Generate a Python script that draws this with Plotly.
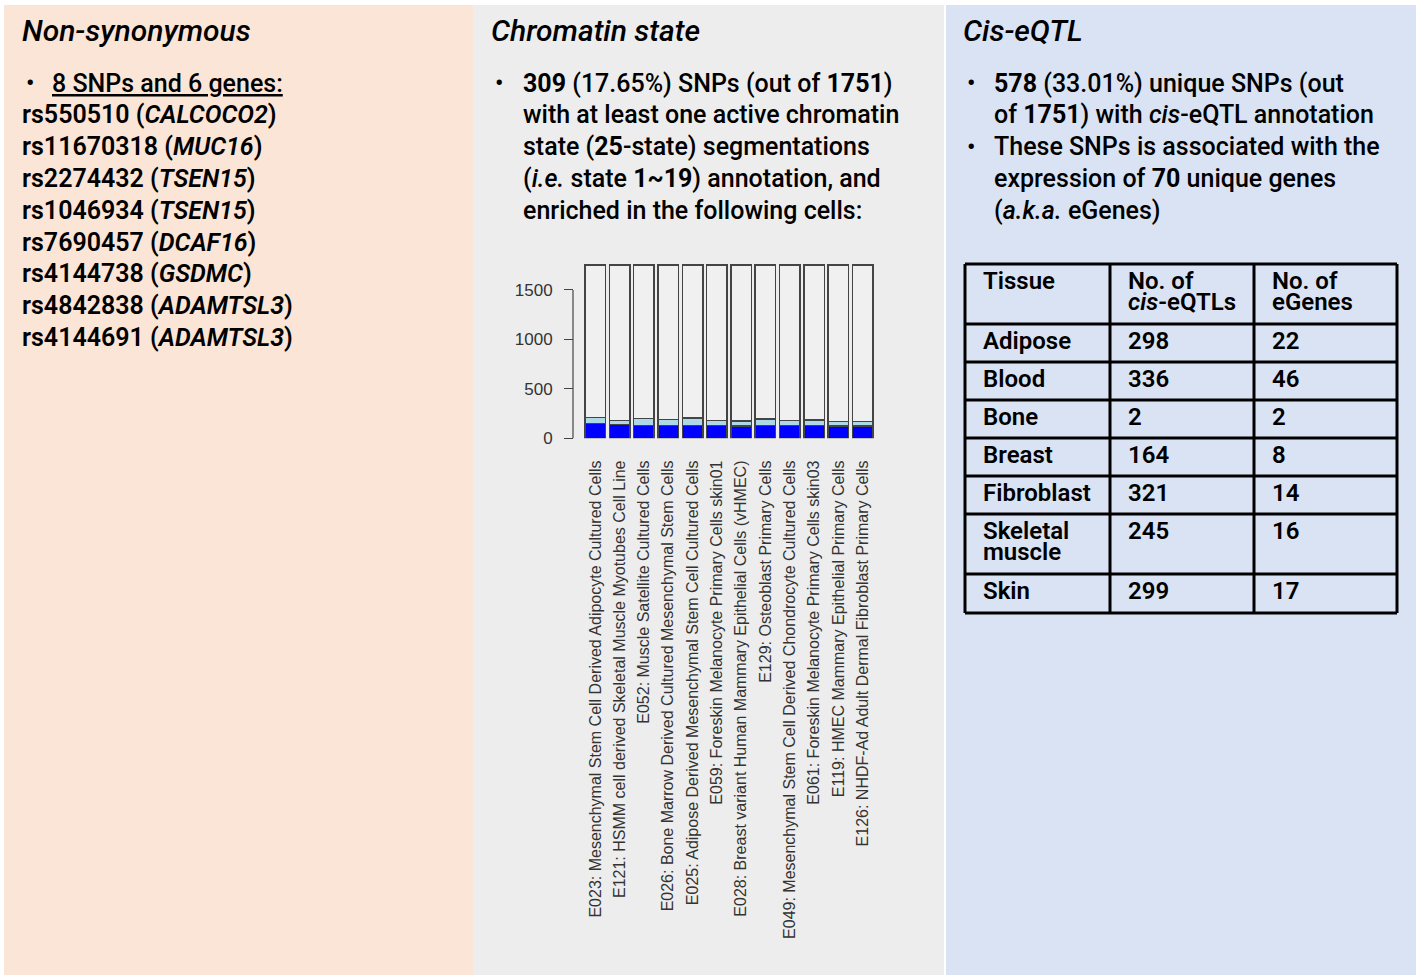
import plotly.graph_objects as go

W, H = 1418, 977

# --- data -------------------------------------------------------------
snp_ids = ["rs550510", "rs11670318", "rs2274432", "rs1046934",
           "rs7690457", "rs4144738", "rs4842838", "rs4144691"]
snp_genes = ["CALCOCO2", "MUC16", "TSEN15", "TSEN15",
             "DCAF16", "GSDMC", "ADAMTSL3", "ADAMTSL3"]

cell_lines = [
    "E023: Mesenchymal Stem Cell Derived Adipocyte Cultured Cells",
    "E121: HSMM cell derived Skeletal Muscle Myotubes Cell Line",
    "E052: Muscle Satellite Cultured Cells",
    "E026: Bone Marrow Derived Cultured Mesenchymal Stem Cells",
    "E025: Adipose Derived Mesenchymal Stem Cell Cultured Cells",
    "E059: Foreskin Melanocyte Primary Cells skin01",
    "E028: Breast variant Human Mammary Epithelial Cells (vHMEC)",
    "E129: Osteoblast Primary Cells",
    "E049: Mesenchymal Stem Cell Derived Chondrocyte Cultured Cells",
    "E061: Foreskin Melanocyte Primary Cells skin03",
    "E119: HMEC Mammary Epithelial Primary Cells",
    "E126: NHDF-Ad Adult Dermal Fibroblast Primary Cells",
]
active_snps = [148, 141, 131, 128, 131, 128, 125, 128, 128, 128, 125, 125]
other_snps = [64, 41, 67, 64, 74, 54, 50, 68, 54, 57, 47, 47]
total_snps = 1751
rest_snps = [total_snps - a - b for a, b in zip(active_snps, other_snps)]
y_ticks = [0, 500, 1000, 1500]

tissues = ["Adipose", "Blood", "Bone", "Breast", "Fibroblast",
           "Skeletal<br>muscle", "Skin"]
n_eqtls = [298, 336, 2, 164, 321, 245, 299]
n_egenes = [22, 46, 2, 8, 14, 16, 17]
table_header = ["Tissue", "No. of<br><i>cis</i>-eQTLs", "No. of<br>eGenes"]

mid_lines = [
    "<b>309</b> (17.65%) SNPs (out of <b>1751</b>)",
    "with at least one active chromatin",
    "state (<b>25</b>-state) segmentations",
    "(<i>i.e.</i> state <b>1~19</b>) annotation, and",
    "enriched in the following cells:",
]
right_lines = [
    "<b>578</b> (33.01%) unique SNPs (out",
    "of <b>1751</b>) with <i>cis</i>-eQTL annotation",
    "These SNPs is associated with the",
    "expression of <b>70</b> unique genes",
    "(<i>a.k.a.</i> eGenes)",
]
right_bullets = [0, 2]

# --- helpers ----------------------------------------------------------
TXT = "Roboto"


def fx(px):
    return px / W


def fy(py):
    return 1 - py / H


annotations = []
shapes = []


def add_text(x, y, text, size=25, weight=500, italic=False, xanchor="left"):
    annotations.append(dict(
        x=fx(x), y=fy(y), xref="paper", yref="paper", text=text,
        showarrow=False, xanchor=xanchor, yanchor="middle",
        font=dict(family=TXT, size=size, color="#000", weight=weight,
                  style="italic" if italic else "normal"),
    ))


# panel backgrounds
for x0, x1, col in [(4, 473, "#fbe5d6"), (473, 944, "#ededed"), (946, 1416, "#dae3f3")]:
    shapes.append(dict(type="rect", xref="paper", yref="paper", layer="below",
                       x0=fx(x0), x1=fx(x1), y0=fy(975), y1=fy(5),
                       line=dict(width=0), fillcolor=col))

# titles
add_text(20, 31, "Non-synonymous", size=30, weight=500, italic=True)
add_text(489, 31, "Chromatin state", size=30, weight=500, italic=True)
add_text(961, 31, "Cis-eQTL", size=30, weight=500, italic=True)

line_y = [83 + 31.8 * i for i in range(9)]

# left panel
add_text(24, line_y[0], "•", size=24)
add_text(50, line_y[0], "<u>8 SNPs and 6 genes:</u>")
for i, (s, g) in enumerate(zip(snp_ids, snp_genes)):
    add_text(20, line_y[i + 1], f"{s} (<i>{g}</i>)", weight=600)

# middle panel
add_text(493, line_y[0], "•", size=24)
for i, t in enumerate(mid_lines):
    add_text(521, line_y[i], t)

# right panel
for i, t in enumerate(right_lines):
    if i in right_bullets:
        add_text(965, line_y[i], "•", size=24)
    add_text(992, line_y[i], t)

# table
col_x = [965, 1110, 1254, 1397]
row_h = [60, 38, 38, 38, 38, 38, 60, 39]
row_y = [264]
for h in row_h:
    row_y.append(row_y[-1] + h)

rows = [table_header] + [[t, str(a), str(b)] for t, a, b in zip(tissues, n_eqtls, n_egenes)]
for r, row in enumerate(rows):
    for c, cell in enumerate(row):
        for k, part in enumerate(cell.split("<br>")):
            add_text(col_x[c] + 16, row_y[r] + 17 + 21 * k, part, size=24, weight=600)

for yy in row_y:
    shapes.append(dict(type="line", xref="paper", yref="paper",
                       x0=fx(col_x[0]), x1=fx(col_x[-1]), y0=fy(yy), y1=fy(yy),
                       line=dict(color="#000", width=3)))
for xx in col_x:
    shapes.append(dict(type="line", xref="paper", yref="paper",
                       x0=fx(xx), x1=fx(xx), y0=fy(row_y[0]), y1=fy(row_y[-1]),
                       line=dict(color="#000", width=3)))

# --- bar chart --------------------------------------------------------
fig = go.Figure()
bar_line = dict(color="#444", width=1.5)
fig.add_trace(go.Bar(x=cell_lines, y=active_snps, marker=dict(color="#0000ff", line=bar_line)))
fig.add_trace(go.Bar(x=cell_lines, y=other_snps, marker=dict(color="#add8e6", line=bar_line)))
fig.add_trace(go.Bar(x=cell_lines, y=rest_snps, marker=dict(color="#f0f0f0", line=bar_line)))

# R-style y axis line from first to last tick
shapes.append(dict(type="line", xref="paper", yref="y",
                   x0=fx(573), x1=fx(573), y0=y_ticks[0], y1=y_ticks[-1],
                   line=dict(color="#444", width=1.2)))

fig.update_layout(
    width=W, height=H, autosize=False,
    margin=dict(l=0, r=0, t=0, b=0),
    paper_bgcolor="white", plot_bgcolor="rgba(0,0,0,0)",
    barmode="stack", bargap=0.16, showlegend=False,
    xaxis=dict(domain=[fx(583.2), fx(874.8)], tickangle=-90, ticks="",
               showgrid=False, zeroline=False, showline=False, automargin=False,
               ticklabelstandoff=18,
               tickfont=dict(family="Liberation Sans", size=16, color="#333")),
    yaxis=dict(domain=[fy(438.3), fy(260.3)], range=[0, 1800],
               anchor="free", position=fx(573),
               tickvals=y_ticks, ticks="outside", ticklen=9, tickwidth=1.2,
               tickcolor="#444", showgrid=False, zeroline=False, showline=False,
               automargin=False, ticklabelstandoff=8,
               tickfont=dict(family="Liberation Sans", size=17, color="#333")),
    shapes=shapes,
    annotations=annotations,
)

fig.write_html("out.html", config={"displayModeBar": False},
               post_script="document.body.style.margin='0';")
